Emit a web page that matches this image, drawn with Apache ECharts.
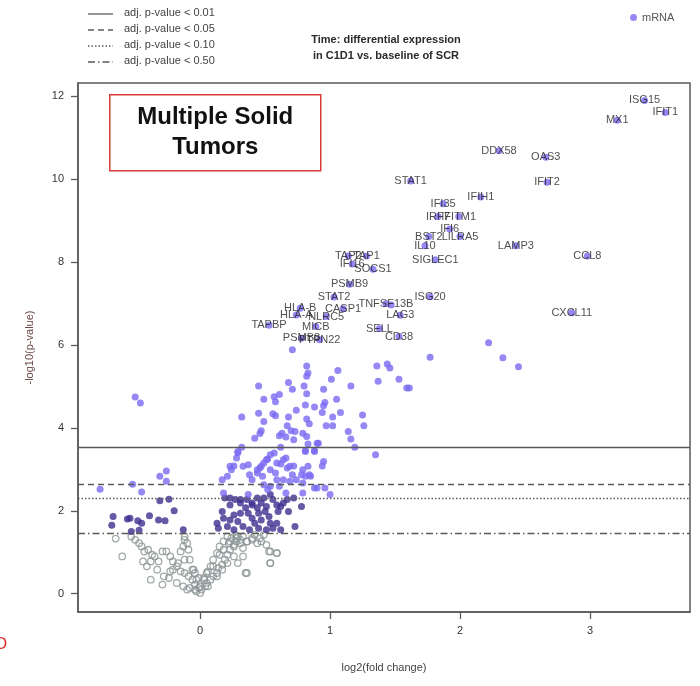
<!DOCTYPE html>
<html>
<head>
    <meta charset="UTF-8">
    <title>Multiple Solid Tumors - volcano</title>
    <script src="https://cdn.jsdelivr.net/npm/echarts@6/dist/echarts.min.js"></script>
    <style>
        html, body { margin: 0; padding: 0; background: #fff; }
    </style>
</head>
<body>
<div id="volcano" style="width: 700px;height:686px;"></div>

<script type="text/javascript">
    // axis ticks
    var xTicks = [0, 1, 2, 3];
    var yTicks = [0, 2, 4, 6, 8, 10, 12];

    // adj. p-value cut-offs, drawn as horizontal lines (-log10 p)
    var cutNames = ['adj. p-value < 0.01', 'adj. p-value < 0.05', 'adj. p-value < 0.10', 'adj. p-value < 0.50'];
    var cutValues = [3.54, 2.65, 2.31, 1.45];

    // labelled genes
    var geneNames = ['ISG15', 'IFIT1', 'MX1', 'DDX58', 'OAS3', 'STAT1', 'IFIT2', 'IFIH1', 'IFI35', 'IRF7',
        'IFITM1', 'IFI6', 'BST2', 'LILRA5', 'IL10', 'SIGLEC1', 'LAMP3', 'CCL8', 'CXCL11', 'TAP2',
        'TAP1', 'IFI16', 'SOCS1', 'PSMB9', 'STAT2', 'HLA-B', 'HLA-A', 'CASP1', 'NLRC5', 'MICB',
        'TAPBP', 'PSMB8', 'PTPN22', 'TNFSF13B', 'ISG20', 'LAG3', 'SELL', 'CD38'];
    var geneX = [3.42, 3.58, 3.21, 2.30, 2.66, 1.62, 2.67, 2.16, 1.87, 1.83,
        1.99, 1.92, 1.76, 2.00, 1.73, 1.81, 2.43, 2.98, 2.86, 1.14,
        1.28, 1.17, 1.33, 1.15, 1.03, 0.77, 0.74, 1.10, 0.97, 0.89,
        0.53, 0.78, 0.92, 1.43, 1.77, 1.54, 1.38, 1.53];
    var geneY = [11.89, 11.60, 11.41, 10.68, 10.52, 9.95, 9.92, 9.56, 9.40, 9.09,
        9.09, 8.79, 8.61, 8.61, 8.39, 8.05, 8.39, 8.14, 6.77, 8.14,
        8.14, 7.95, 7.82, 7.46, 7.15, 6.88, 6.72, 6.87, 6.68, 6.44,
        6.47, 6.16, 6.12, 6.99, 7.16, 6.71, 6.39, 6.20];

    // other significant mRNAs (adj. p < 0.05 region)
    var upPts = [
        [-0.50, 4.74], [-0.46, 4.60], [-0.77, 2.52], [-0.52, 2.64], [-0.45, 2.45], [-0.31, 2.83], [-0.26, 2.96], [-0.26, 2.71],
        [0.82, 5.49], [0.83, 5.32], [0.82, 5.24], [0.80, 5.01], [0.82, 4.82], [0.81, 4.55], [0.82, 4.21], [0.84, 4.10],
        [0.79, 3.87], [0.82, 3.79], [0.83, 3.61], [0.91, 3.63], [0.81, 3.45], [0.88, 3.45], [1.06, 5.38], [1.01, 5.17],
        [0.95, 4.93], [1.16, 5.01], [1.05, 4.69], [0.96, 4.61], [0.95, 4.53], [0.88, 4.50], [0.94, 4.37], [1.02, 4.26],
        [1.08, 4.37], [0.97, 4.05], [1.02, 4.05], [1.14, 3.91], [1.16, 3.73], [1.25, 4.31], [1.26, 4.05], [1.36, 5.49],
        [1.37, 5.12], [1.44, 5.54], [1.46, 5.44], [1.53, 5.17], [1.59, 4.96], [1.61, 4.96], [1.77, 5.70], [1.35, 3.35],
        [1.19, 3.53], [2.22, 6.05], [2.33, 5.69], [2.45, 5.47], [0.71, 5.88], [1.47, 6.96],
        [0.45, 5.01], [0.49, 4.69], [0.57, 4.75], [0.61, 4.80], [0.58, 4.63], [0.68, 5.09], [0.71, 4.93], [0.45, 4.35],
        [0.49, 4.15], [0.56, 4.34], [0.58, 4.29], [0.32, 4.26], [0.68, 4.26], [0.74, 4.42], [0.67, 4.05], [0.70, 3.93],
        [0.63, 3.87], [0.47, 3.93], [0.46, 3.86], [0.42, 3.75], [0.61, 3.81], [0.66, 3.78], [0.73, 3.91], [0.32, 3.53],
        [0.29, 3.40], [0.62, 3.53], [0.72, 3.71],
        [0.54, 3.35], [0.52, 3.25], [0.49, 3.15], [0.46, 3.03], [0.44, 2.91], [0.38, 2.87], [0.37, 3.11], [0.33, 3.07],
        [0.26, 3.08], [0.24, 2.99], [0.21, 2.83], [0.17, 2.75], [0.48, 2.83], [0.54, 2.99], [0.58, 2.91], [0.62, 3.13],
        [0.66, 3.27], [0.67, 3.03], [0.72, 3.08], [0.71, 2.87], [0.64, 2.75], [0.74, 2.75], [0.83, 3.07], [0.81, 2.83],
        [0.88, 2.55], [0.95, 3.19], [0.94, 3.08], [0.84, 2.87], [0.78, 2.87], [0.81, 3.43], [0.88, 3.43], [0.90, 3.63],
        [0.29, 3.43], [0.28, 3.27], [0.23, 3.07], [0.40, 2.75], [0.44, 2.99], [0.47, 3.07], [0.51, 3.23], [0.57, 3.39],
        [0.59, 3.15], [0.64, 3.23], [0.69, 3.07], [0.79, 2.99], [0.85, 2.83], [0.96, 2.55], [0.90, 2.55], [0.79, 2.67],
        [0.69, 2.71], [0.59, 2.75], [0.54, 2.59], [0.49, 2.63],
        [0.18, 2.43], [0.37, 2.39], [0.52, 2.51], [0.61, 2.59], [0.66, 2.43], [0.79, 2.43], [1.00, 2.39]
    ];

    // adj. p between 0.05 and 0.50
    var midPts = [
        [-0.31, 2.24], [-0.24, 2.28], [-0.20, 2.00], [-0.67, 1.86], [-0.68, 1.65], [-0.56, 1.80], [-0.54, 1.82], [-0.48, 1.76],
        [-0.45, 1.70], [-0.53, 1.50], [-0.47, 1.53], [-0.39, 1.88], [-0.32, 1.78], [-0.27, 1.76], [-0.13, 1.54],
        [0.17, 1.98], [0.18, 1.82], [0.13, 1.70], [0.14, 1.58], [0.21, 1.62], [0.23, 1.78], [0.26, 1.90], [0.23, 2.14],
        [0.27, 2.27], [0.31, 2.19], [0.35, 2.07], [0.37, 1.94], [0.40, 1.82], [0.42, 1.70], [0.45, 1.58], [0.38, 1.54],
        [0.33, 1.62], [0.29, 1.74], [0.31, 1.94], [0.36, 2.27], [0.40, 2.14], [0.44, 2.07], [0.47, 2.19], [0.50, 1.98],
        [0.53, 1.86], [0.54, 1.70], [0.51, 1.54], [0.47, 1.78], [0.45, 1.94], [0.56, 2.27], [0.59, 2.14], [0.60, 1.98],
        [0.62, 2.10], [0.64, 2.19], [0.67, 2.27], [0.68, 1.98], [0.59, 1.70], [0.56, 1.58], [0.73, 1.62], [0.78, 2.10],
        [0.62, 1.54], [0.26, 1.54], [0.19, 2.31], [0.44, 2.31], [0.49, 2.31], [0.54, 2.39],
        [0.23, 2.31], [0.31, 2.27], [0.40, 2.19], [0.51, 2.10], [0.72, 2.31]
    ];

    // not significant
    var nsPts = [
        [-0.65, 1.33], [-0.60, 0.90], [-0.53, 1.38], [-0.50, 1.30], [-0.47, 1.22], [-0.45, 1.14], [-0.43, 1.02], [-0.40, 1.06],
        [-0.37, 0.94], [-0.35, 0.90], [-0.32, 0.78], [-0.38, 0.78], [-0.44, 0.78], [-0.41, 0.66], [-0.29, 1.02], [-0.26, 1.02],
        [-0.23, 0.90], [-0.21, 0.78], [-0.18, 0.66], [-0.15, 0.54], [-0.12, 0.50], [-0.09, 0.42], [-0.06, 0.34], [-0.04, 0.22],
        [-0.01, 0.14], [0.01, 0.10], [0.04, 0.18], [0.05, 0.26], [0.08, 0.34], [0.10, 0.42], [0.13, 0.50], [0.14, 0.62],
        [0.17, 0.70], [0.19, 0.82], [0.21, 0.94], [0.23, 1.06], [0.26, 1.18], [0.28, 1.26], [0.31, 1.22], [0.33, 1.10],
        [0.36, 1.26], [0.40, 1.30], [0.44, 1.22], [0.47, 1.26], [0.51, 1.18], [0.54, 1.02], [0.59, 0.98], [0.54, 0.74],
        [0.35, 0.50], [-0.29, 0.22], [-0.38, 0.34], [-0.33, 0.58], [-0.28, 0.42], [-0.23, 0.54], [-0.18, 0.26], [-0.13, 0.18],
        [-0.10, 0.10], [-0.08, 0.14], [-0.03, 0.06], [0.03, 0.38], [0.06, 0.54], [0.10, 0.66], [0.15, 0.94], [0.18, 1.06],
        [0.22, 1.22], [0.24, 1.34], [0.27, 1.42], [0.29, 1.38], [-0.12, 1.38], [-0.12, 1.30], [-0.10, 1.22], [-0.13, 1.14],
        [-0.15, 1.02], [-0.12, 0.82], [-0.17, 0.74], [-0.21, 0.58], [-0.24, 0.38], [-0.06, 0.58], [-0.04, 0.50], [-0.01, 0.38],
        [-0.09, 1.06], [-0.08, 0.82], [-0.05, 0.58], [-0.03, 0.34], [0.00, 0.18], [0.03, 0.34], [0.05, 0.50], [0.08, 0.66],
        [0.10, 0.82], [0.13, 0.98], [0.15, 1.14], [0.18, 1.26], [0.21, 1.38], [0.23, 1.26], [0.26, 1.14], [0.28, 1.34],
        [0.31, 1.30], [0.33, 1.38], [0.36, 1.26], [0.40, 1.34], [0.42, 1.42], [0.46, 1.34], [0.49, 1.42], [0.53, 1.02],
        [0.59, 0.98], [0.54, 0.74], [0.36, 0.50], [0.33, 0.90], [0.29, 0.74], [0.26, 0.90], [0.21, 0.74], [0.17, 0.58],
        [0.13, 0.42], [0.06, 0.18], [0.00, 0.02], [-0.04, 0.10]
    ];

    var lightPurple = '#7b6af2';
    var darkPurple = '#3e3090';
    var axisGray = '#5a5a5a';
    var dashTypes = ['solid', [6, 4], [1.5, 2], [7, 3, 1.5, 3]];

    var geneData = geneNames.map(function (n, i) {
        return { name: n, value: [geneX[i], geneY[i]] };
    });

    var cutLines = cutValues.map(function (v, i) {
        return { yAxis: v, name: cutNames[i], lineStyle: { type: dashTypes[i] } };
    });

    // legend for the cut-off lines (top left)
    var cutLegend = [];
    cutNames.forEach(function (n, i) {
        var y = 14 + i * 16;
        cutLegend.push({
            type: 'line', shape: { x1: 88, y1: y, x2: 113, y2: y },
            style: { stroke: axisGray, lineWidth: 1.3, lineDash: dashTypes[i] === 'solid' ? null : dashTypes[i] }
        });
        cutLegend.push({
            type: 'text', left: 124, top: y - 7,
            style: { text: n, fill: '#444', font: '11px Arial' }
        });
    });

    var chart = echarts.init(document.getElementById('volcano'));

    var option = {
        animation: false,
        textStyle: { fontFamily: 'Arial, "Liberation Sans", sans-serif' },
        title: {
            text: 'Time: differential expression\nin C1D1 vs. baseline of SCR',
            left: 381, top: 27, textAlign: 'center',
            textStyle: { fontSize: 11, fontWeight: 'bold', color: '#2a2a2a', lineHeight: 16 }
        },
        legend: {
            data: ['mRNA'], left: 625, top: 7,
            icon: 'circle', itemWidth: 7, itemHeight: 7,
            textStyle: { fontSize: 11, color: '#555' }
        },
        grid: {
            left: 78, right: 10, top: 83, bottom: 74,
            show: true, borderColor: axisGray, borderWidth: 1.5
        },
        xAxis: {
            type: 'value', min: -0.94, max: 3.77,
            name: 'log2(fold change)', nameLocation: 'middle', nameGap: 50,
            nameTextStyle: { fontSize: 11, color: '#444' },
            splitLine: { show: false },
            axisLine: { onZero: false, lineStyle: { color: axisGray, width: 1.5 } },
            axisTick: { customValues: xTicks, length: 7, lineStyle: { color: axisGray, width: 1.3 } },
            axisLabel: { customValues: xTicks, margin: 13, fontSize: 11, color: '#333' }
        },
        yAxis: {
            type: 'value', min: -0.44, max: 12.31,
            name: '-log10(p-value)', nameLocation: 'middle', nameGap: 43, nameRotate: 90,
            nameTextStyle: { fontSize: 11, color: '#6b4545' },
            splitLine: { show: false },
            axisLine: { onZero: false, lineStyle: { color: axisGray, width: 1.5 } },
            axisTick: { customValues: yTicks, length: 7, lineStyle: { color: axisGray, width: 1.3 } },
            axisLabel: { customValues: yTicks, margin: 14, fontSize: 11, color: '#333' }
        },
        series: [
            {
                name: 'ns', type: 'scatter', data: nsPts, symbolSize: 6.5,
                itemStyle: { color: 'rgba(255,255,255,0)', borderColor: '#8b9595', borderWidth: 1.3 },
                markLine: {
                    silent: true, symbol: 'none', label: { show: false },
                    lineStyle: { color: axisGray, width: 1.4 },
                    data: cutLines
                }
            },
            {
                name: 'mid', type: 'scatter', data: midPts, symbolSize: 7,
                itemStyle: { color: darkPurple }
            },
            {
                name: 'mRNA', type: 'scatter', data: upPts, symbolSize: 7,
                itemStyle: { color: lightPurple }
            },
            {
                name: 'genes', type: 'scatter', data: geneData, symbolSize: 7,
                itemStyle: { color: lightPurple },
                label: {
                    show: true, position: 'inside', offset: [0, 5],
                    formatter: '{b}', fontSize: 11, color: '#222',
                    textBorderWidth: 0, textBorderColor: 'transparent'
                },
                labelLayout: { hideOverlap: false }
            }
        ],
        graphic: cutLegend.concat([
            {
                type: 'group', left: 109, top: 94,
                children: [
                    {
                        type: 'rect', shape: { x: 0, y: 0, width: 211, height: 76 },
                        style: { fill: '#fff', stroke: '#d83a3a', lineWidth: 1.5 }
                    },
                    {
                        type: 'text', x: 105.5, y: 38,
                        style: {
                            text: 'Multiple Solid\nTumors', font: 'bold 24px Arial',
                            fill: '#111', align: 'center', verticalAlign: 'middle', lineHeight: 30
                        }
                    }
                ]
            },
            {
                type: 'text', left: -6, top: 636,
                style: { text: 'O', fill: '#e03030', font: '17px Arial' }
            }
        ])
    };

    chart.setOption(option);
</script>
</body>
</html>
